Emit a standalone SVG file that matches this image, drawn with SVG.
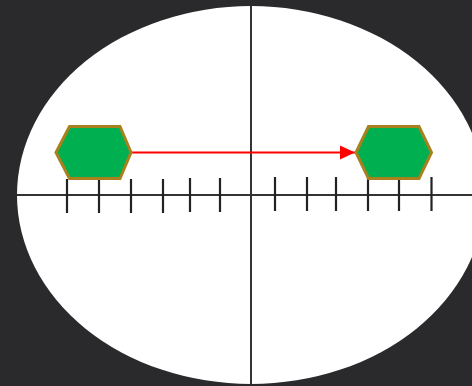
<svg xmlns="http://www.w3.org/2000/svg" width="472" height="386" viewBox="0 0 472 386">
<defs>
<style>
.axis{stroke:#333;stroke-width:2;fill:none}
.tick{stroke:#222;stroke-width:2.2;fill:none}
.hex{fill:#00B050;stroke:#A8801E;stroke-width:3;stroke-linejoin:miter}
.conn{stroke:#FF0000;stroke-width:2.2;fill:none}
</style>
<marker id="ah" markerUnits="userSpaceOnUse" markerWidth="16" markerHeight="16" refX="15" refY="8" orient="auto">
<path d="M0,1 L15,8 L0,15 Z" fill="#FF0000"/>
</marker>
</defs>
<rect width="472" height="386" fill="#2A2A2C"/>
<ellipse cx="251" cy="195" rx="234" ry="189" fill="#FFFFFF"/>
<g id="axes">
<line class="axis" x1="17" y1="195" x2="472" y2="195"/>
<line class="axis" x1="251" y1="6" x2="251" y2="384"/>
</g>
<g id="ticks">
<line class="tick" x1="67" y1="179" x2="67" y2="213"/>
<line class="tick" x1="99" y1="179" x2="99" y2="213"/>
<line class="tick" x1="131" y1="179" x2="131" y2="213"/>
<line class="tick" x1="163" y1="179" x2="163" y2="213"/>
<line class="tick" x1="190" y1="178" x2="190" y2="212"/>
<line class="tick" x1="220" y1="178" x2="220" y2="212"/>
<line class="tick" x1="275" y1="177" x2="275" y2="211"/>
<line class="tick" x1="307" y1="177" x2="307" y2="211"/>
<line class="tick" x1="336" y1="177" x2="336" y2="211"/>
<line class="tick" x1="368" y1="177" x2="368" y2="211"/>
<line class="tick" x1="399" y1="177" x2="399" y2="211"/>
<line class="tick" x1="431.5" y1="177" x2="431.5" y2="211"/>
</g>
<g id="connectors">
<line class="conn" x1="131" y1="152.5" x2="355" y2="152.5" marker-end="url(#ah)"/>
</g>
<g id="hexLeft">
<polygon class="hex" points="56,152.5 69.5,126.5 120,126.5 131,152.5 120,178.5 69.5,178.5"/>
</g>
<g id="hexRight">
<polygon class="hex" points="356,152.5 368.5,126.5 419,126.5 431.5,152.5 419,178.5 368.5,178.5"/>
</g>
</svg>
